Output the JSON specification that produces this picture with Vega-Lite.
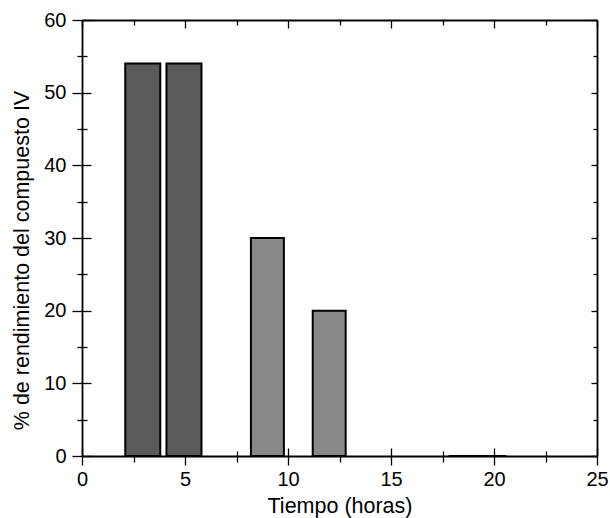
{
  "$schema": "https://vega.github.io/schema/vega-lite/v6.json",
  "width": 515,
  "height": 436,
  "autosize": {"type": "none"},
  "padding": {"left": 82, "top": 20, "right": 13, "bottom": 62},
  "background": "white",
  "config": {
    "view": {"stroke": null},
    "font": "Liberation Sans",
    "axis": {
      "domainColor": "black",
      "domainWidth": 1.8,
      "tickColor": "black",
      "tickWidth": 1.3,
      "grid": false,
      "labelFont": "Liberation Sans",
      "labelFontSize": 20,
      "labelColor": "black",
      "titleFont": "Liberation Sans",
      "titleFontSize": 21.5,
      "titleFontWeight": "normal",
      "titleColor": "black"
    }
  },
  "data": {
    "values": [
      {"inicio": 2.1, "fin": 3.8, "rendimiento": 54, "grupo": "a"},
      {"inicio": 4.1, "fin": 5.8, "rendimiento": 54, "grupo": "a"},
      {"inicio": 8.2, "fin": 9.8, "rendimiento": 30, "grupo": "b"},
      {"inicio": 11.2, "fin": 12.8, "rendimiento": 20, "grupo": "b"},
      {"inicio": 17.8, "fin": 20.6, "rendimiento": 0, "grupo": "b"}
    ]
  },
  "layer": [
    {
      "mark": {"type": "rect", "stroke": "black", "strokeWidth": 2},
      "encoding": {
        "x": {
          "field": "inicio", "type": "quantitative",
          "scale": {"domain": [0, 25], "nice": false, "zero": false},
          "axis": {
            "orient": "bottom",
            "title": "Tiempo (horas)",
            "values": [0, 2.5, 5, 7.5, 10, 12.5, 15, 17.5, 20, 22.5, 25],
            "labelExpr": "datum.value % 5 === 0 ? datum.label : ''",
            "tickSize": {"condition": {"test": "datum.value % 5 === 0", "value": 9}, "value": 6},
            "labelPadding": 4,
            "titlePadding": 6,
            "labelFlush": false
          }
        },
        "x2": {"field": "fin"},
        "y": {
          "field": "rendimiento", "type": "quantitative",
          "scale": {"domain": [0, 60], "nice": false},
          "axis": {
            "orient": "left",
            "title": "% de rendimiento del compuesto IV",
            "titleY": 240,
            "values": [0, 5, 10, 15, 20, 25, 30, 35, 40, 45, 50, 55, 60],
            "labelExpr": "datum.value % 10 === 0 ? datum.label : ''",
            "tickSize": {"condition": {"test": "datum.value % 10 === 0", "value": 10}, "value": 5},
            "labelPadding": 6,
            "titlePadding": 10,
            "labelFlush": false
          }
        },
        "y2": {"datum": 0},
        "fill": {
          "field": "grupo", "type": "nominal",
          "scale": {"domain": ["a", "b"], "range": ["#5a5a5a", "#888888"]},
          "legend": null
        }
      }
    },
    {
      "mark": {"type": "rect", "opacity": 0},
      "encoding": {
        "x": {
          "field": "inicio", "type": "quantitative",
          "scale": {"domain": [0, 25], "nice": false, "zero": false},
          "axis": {
            "orient": "bottom", "title": null, "labels": false, "domain": false,
            "values": [0, 2.5, 5, 7.5, 10, 12.5, 15, 17.5, 20, 22.5, 25],
            "tickSize": {"condition": {"test": "datum.value % 5 === 0", "value": -8}, "value": -5}
          }
        },
        "x2": {"field": "fin"},
        "y": {
          "field": "rendimiento", "type": "quantitative",
          "scale": {"domain": [0, 60], "nice": false},
          "axis": {
            "orient": "left", "title": null, "labels": false, "domain": false,
            "values": [0, 5, 10, 15, 20, 25, 30, 35, 40, 45, 50, 55, 60],
            "tickSize": {"condition": {"test": "datum.value % 10 === 0", "value": -9}, "value": -5}
          }
        },
        "y2": {"datum": 0}
      }
    },
    {
      "mark": {"type": "rect", "opacity": 0},
      "encoding": {
        "x": {
          "field": "inicio", "type": "quantitative",
          "scale": {"domain": [0, 25], "nice": false, "zero": false},
          "axis": {
            "orient": "top", "title": null, "labels": false,
            "values": [0, 2.5, 5, 7.5, 10, 12.5, 15, 17.5, 20, 22.5, 25],
            "tickSize": {"condition": {"test": "datum.value % 5 === 0", "value": -8}, "value": -5}
          }
        },
        "x2": {"field": "fin"},
        "y": {
          "field": "rendimiento", "type": "quantitative",
          "scale": {"domain": [0, 60], "nice": false},
          "axis": {
            "orient": "right", "title": null, "labels": false,
            "values": [0, 5, 10, 15, 20, 25, 30, 35, 40, 45, 50, 55, 60],
            "tickSize": {"condition": {"test": "datum.value % 10 === 0", "value": -6}, "value": -4}
          }
        },
        "y2": {"datum": 0}
      }
    }
  ],
  "resolve": {"axis": {"x": "independent", "y": "independent"}}
}
